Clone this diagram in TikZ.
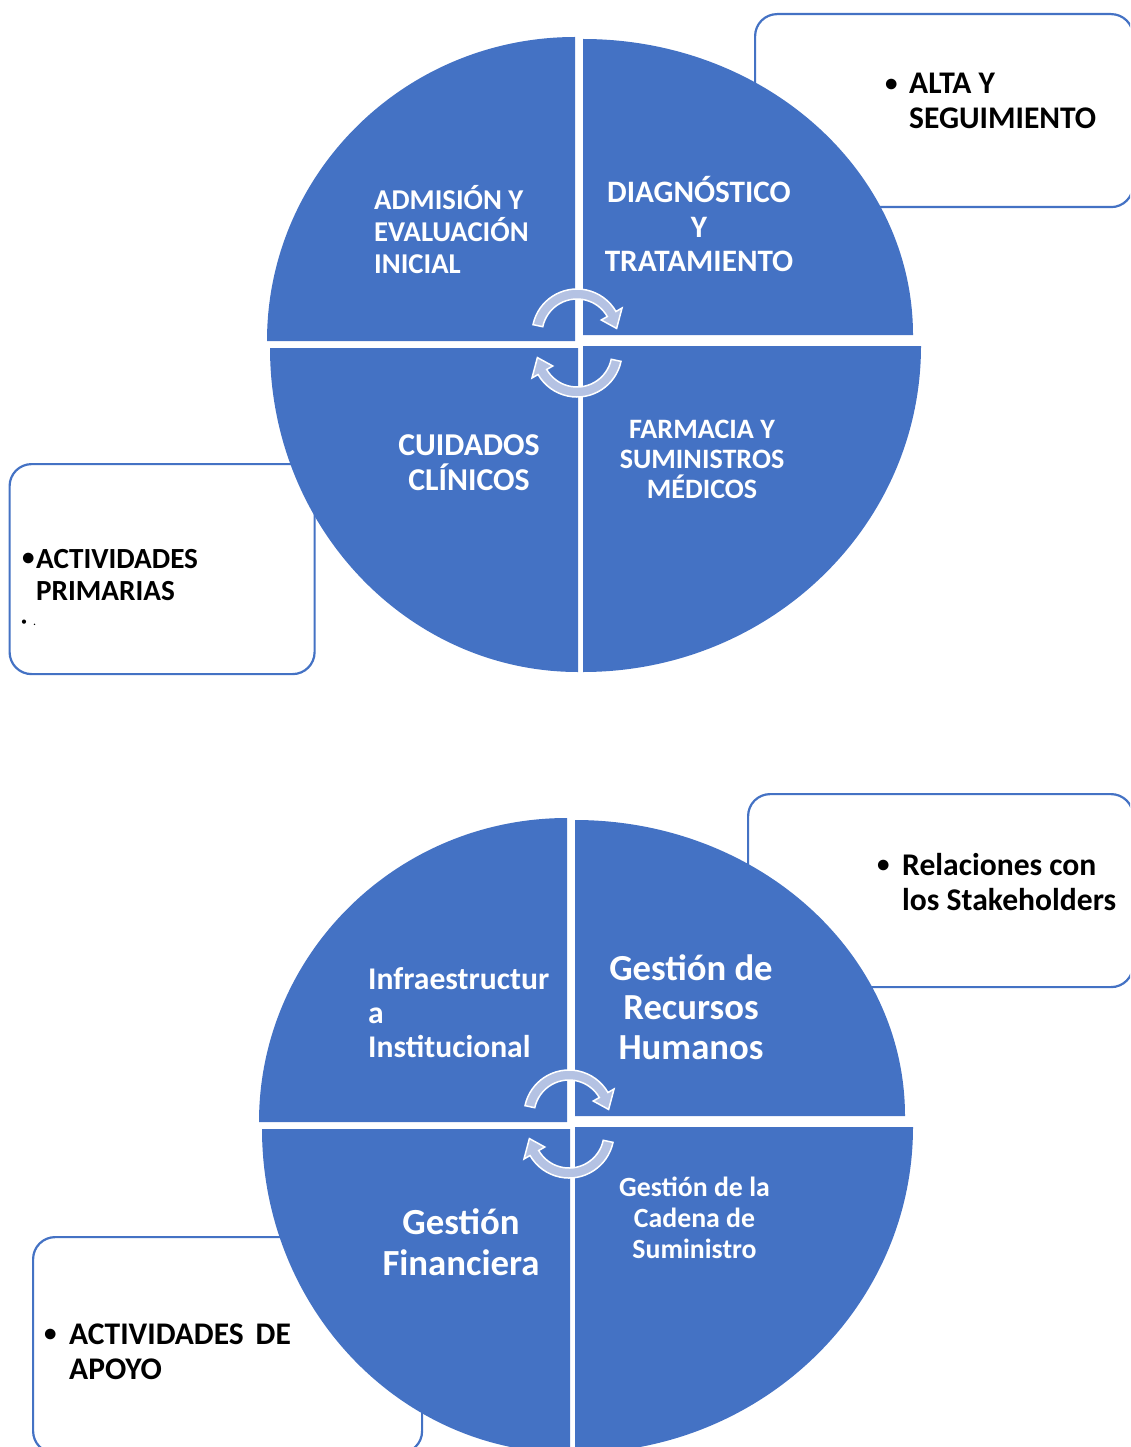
\documentclass[tikz,border=0pt]{standalone}
\usepackage{fontspec}
\setmainfont{Carlito}
\definecolor{quadblue}{HTML}{4472C4}
\definecolor{turnblue}{HTML}{B4C2E3}
\newcommand\fsz[2]{\fontsize{#1}{#2}\selectfont\bfseries}
\newcommand\dotmark{\raisebox{2.2pt}{\fontsize{25}{25}\selectfont•}}

\begin{document}
\begin{tikzpicture}[x=1pt, y=1pt,
	quad/.style={fill=quadblue},
	turnarrow/.style={fill=turnblue, draw=white, line width=1.5pt, line join=miter},
	sidebox/.style={draw=quadblue, line width=2.2pt, fill=white, rounded corners=22pt, inner sep=0pt, anchor=north west},
	intext/.style={text=white, inner sep=0pt},
	outtext/.style={text=black, inner sep=0pt, align=left, anchor=base west},
	turn/.pic={
		\filldraw[turnarrow] (168:45) arc[start angle=168, end angle=30, radius=45] -- (30:52) -- (8:40) -- (30:28) -- (30:35) arc[start angle=30, end angle=168, radius=35] -- cycle;
	}]
	\useasboundingbox (0,0) rectangle (1130,-1447);
	\clip (0,0) rectangle (1130,-1447);

	% side boxes, under the circles
	\node[sidebox, minimum width=378pt, minimum height=193pt] (altabox) at (754,-13) {};
	\node[sidebox, minimum width=305pt, minimum height=210pt] (primbox) at (8.5,-463) {};
	\node[sidebox, minimum width=385pt, minimum height=193pt] (stakebox) at (747,-793) {};
	\node[sidebox, minimum width=389pt, minimum height=216pt] (apoyobox) at (32,-1236) {};

	% the two circles of four quarters
	\foreach \dx/\dy in {0/0, -8/-781} {
		\begin{scope}[shift={(\dx,\dy)}]
			\fill[quad] (575,-341) -- (267,-341) arc[start angle=180, end angle=90, x radius=308, y radius=304] -- cycle;
			\fill[quad] (583,-335) -- (583,-39) arc[start angle=90, end angle=0, x radius=330, y radius=296] -- cycle;
			\fill[quad] (578,-348) -- (270,-348) arc[start angle=180, end angle=270, x radius=308, y radius=324] -- cycle;
			\fill[quad] (583,-346) -- (921,-346) arc[start angle=0, end angle=-90, x radius=338, y radius=326] -- cycle;
			\pic at (577,-334) {turn};
			\pic[rotate=180] at (577,-352) {turn};
		\end{scope}
	}

	% primary activities (base = last line)
	\node[intext, anchor=base west, align=left, font=\fsz{28.7}{32}] (admision) at (374,-273) {ADMISIÓN Y\\EVALUACIÓN\\INICIAL};
	\node[intext, anchor=base, align=center, font=\fsz{31.2}{34}] (diagnostico) at (699,-271) {DIAGNÓSTICO\\Y\\TRATAMIENTO};
	\node[intext, anchor=base, align=center, font=\fsz{31.8}{35}] (cuidados) at (469,-490) {CUIDADOS\\CLÍNICOS};
	\node[intext, anchor=base, align=center, font=\fsz{28.1}{30}] (farmacia) at (702,-498) {FARMACIA Y\\SUMINISTROS\\MÉDICOS};
	\node[outtext, font=\fsz{31.5}{35}] (alta) at (885,-129) {\makebox[24pt][l]{\dotmark}ALTA Y\\\hspace*{24pt}SEGUIMIENTO};
	\node[outtext, font=\fsz{29.2}{32}] (primarias) at (22,-600) {\makebox[14pt][l]{\dotmark}ACTIVIDADES\\\hspace*{14pt}PRIMARIAS};
	\node[outtext, font=\fontsize{12}{14}\selectfont] (punto) at (21,-625) {•\hspace{6pt}.};

	% support activities
	\node[intext, anchor=base west, align=left, font=\fsz{31.6}{34}] (infra) at (368,-1057) {Infraestructur\\a\\Institucional};
	\node[intext, anchor=base, align=center, font=\fsz{36.7}{39.5}] (humanos) at (691,-1059) {Gestión de\\Recursos\\Humanos};
	\node[intext, anchor=base, align=center, font=\fsz{36.8}{41}] (financiera) at (461,-1275) {Gestión\\Financiera};
	\node[intext, anchor=base, align=center, font=\fsz{27.8}{31}] (cadena) at (694.5,-1258) {Gestión de la\\Cadena de\\Suministro};
	\node[outtext, font=\fsz{31.6}{35}] (stakeholders) at (877,-910) {\makebox[25pt][l]{\dotmark}Relaciones con\\\hspace*{25pt}los Stakeholders};
	\node[outtext, font=\fsz{31.5}{35}] (apoyo) at (44,-1379) {\makebox[25pt][l]{\dotmark}ACTIVIDADES\hspace{12pt}DE\\\hspace*{25pt}APOYO};
\end{tikzpicture}
\end{document}
